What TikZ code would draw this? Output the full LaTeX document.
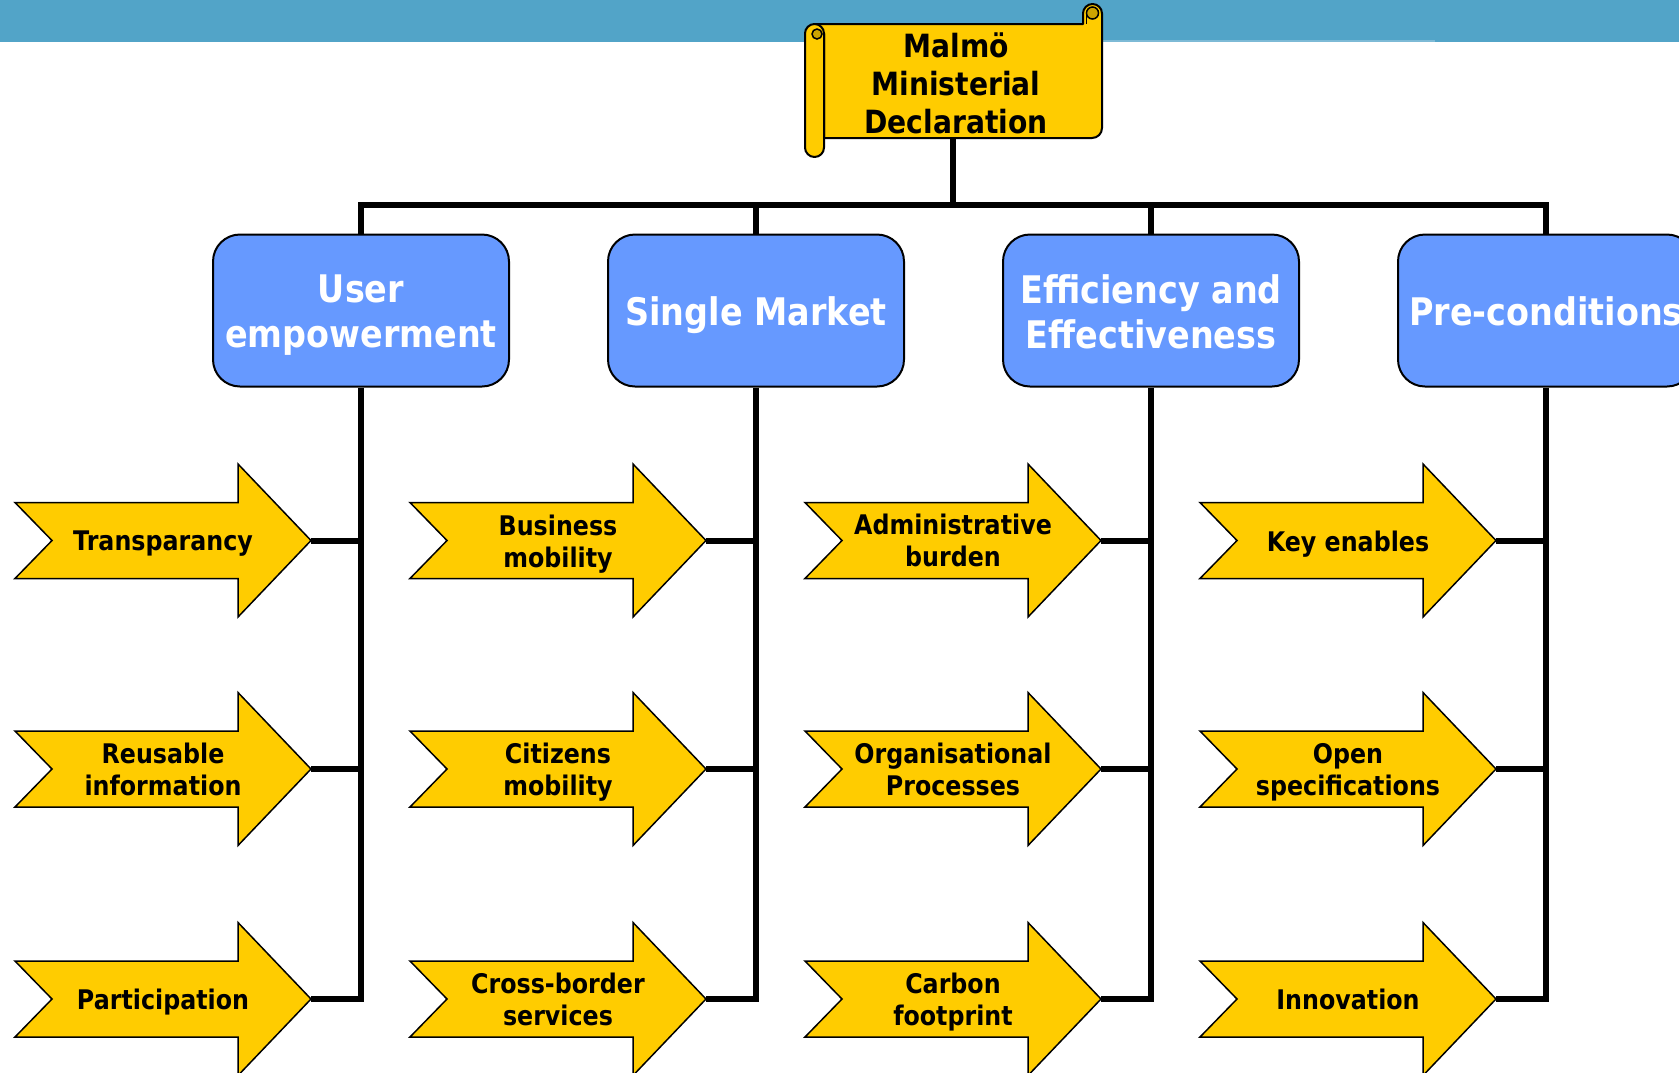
\documentclass[tikz,border=0pt]{standalone}
\usepackage{fontspec}
\setmainfont{DejaVu Sans}[FakeStretch=0.88]
\definecolor{gold}{HTML}{FFCC00}
\definecolor{golddark}{HTML}{CCA300}
\definecolor{boxblue}{HTML}{6699FF}
\definecolor{band}{HTML}{52A4C8}
\definecolor{bandlight}{HTML}{7DBAD6}
\tikzset{
  conn/.style={line width=6pt, line join=miter},
  topic/.style={draw=black, line width=2pt, fill=boxblue, rounded corners=27pt,
    minimum width=296pt, minimum height=152pt, inner sep=0pt},
  topictext/.style={align=center, text=white,
    font=\fontsize{38}{45}\selectfont\bfseries, inner sep=0pt},
  arrowshape/.style={draw=black, line width=1.5pt, fill=gold, line join=miter},
  arrowtext/.style={align=center, font=\fontsize{27}{32}\selectfont\bfseries, inner sep=0pt},
  desc/.style={yshift=-3.2pt},
  scrolltext/.style={align=center, font=\fontsize{32}{38}\selectfont\bfseries,
    inner sep=0pt, minimum height=110pt, minimum width=250pt},
  scrollshape/.style={draw=black, line width=2pt, fill=gold, line join=round},
  curl/.style={draw=black, line width=1.5pt, fill=golddark},
}
\newcommand\itemarrow[5]{%
  \begin{scope}[shift={(#2,-#3)}]
    \filldraw[arrowshape] (0,38) -- (223,38) -- (223,76.5) -- (296,0) -- (223,-76.5)
      -- (223,-38) -- (0,-38) -- (37,0) -- cycle;
    \node[arrowtext,#5] (#1) at (148,0) {#4};
    \coordinate (#1tip) at (296,0);
  \end{scope}}
\begin{document}
\begin{tikzpicture}[x=1pt,y=1pt]
\useasboundingbox (0,0) rectangle (1679,-1072);
\clip (0,0) rectangle (1679,-1072);
% top band
\fill[band] (0,0) rectangle (1679,-41.5);
\fill[bandlight] (1102,-39.5) rectangle (1435,-41.5);

% scroll
\filldraw[scrollshape] (814.5,-24) -- (1083,-24) -- (1083,-13.5)
  arc[start angle=180,end angle=0,radius=9.5pt] -- (1102,-128)
  arc[start angle=0,end angle=-90,radius=10pt] -- (824,-138) -- (824,-33.5) -- cycle;
\filldraw[scrollshape] (805,-33.5) arc[start angle=180,end angle=0,radius=9.5pt]
  -- (824,-147.5) arc[start angle=0,end angle=-180,radius=9.5pt] -- cycle;
\filldraw[curl] (817,-34) circle[radius=5pt];
\filldraw[curl] (1092.5,-13) circle[radius=6pt];
\draw[black,line width=1.5pt] (1086.5,-13) -- (1086.5,-24);
\node[scrolltext] (scroll) at (956,-83) {Malmö\\Ministerial\\Declaration};

% topic boxes
\node[topic] (b1) at (361,-310.5) {};
\node[topic] (b2) at (756,-310.5) {};
\node[topic] (b3) at (1151,-310.5) {};
\node[topic] (b4) at (1546,-310.5) {};
\node[topictext,yshift=-4.4pt] (b1t) at (b1.center) {User\\empowerment};
\node[topictext,yshift=-4.4pt] (b2t) at (b2.center) {Single Market};
\node[topictext,yshift=-1pt] (b3t) at (b3.center) {Efficiency and\\Effectiveness};
\node[topictext,yshift=-1pt] (b4t) at (b4.center) {Pre-conditions};

% tree connectors
\path ([xshift=-3pt]scroll.south) coordinate (stem) ++(0,-67) coordinate (hub);
\draw[conn] (stem) -- (hub);
\draw[conn] (b1.north) -- (b1.north |- hub) -- (b4.north |- hub) -- (b4.north);
\draw[conn] (b2.north) -- (b2.north |- hub);
\draw[conn] (b3.north) -- (b3.north |- hub);

% arrows
\itemarrow{a11}{15}{540.5}{Transparancy}{desc}
\itemarrow{a12}{15}{769}{Reusable\\information}{}
\itemarrow{a13}{15}{999}{Participation}{desc}
\itemarrow{a21}{410}{540.5}{Business\\mobility}{desc}
\itemarrow{a22}{410}{769}{Citizens\\mobility}{desc}
\itemarrow{a23}{410}{999}{Cross-border\\services}{}
\itemarrow{a31}{805}{540.5}{Administrative\\burden}{}
\itemarrow{a32}{805}{769}{Organisational\\Processes}{}
\itemarrow{a33}{805}{999}{Carbon\\footprint}{desc}
\itemarrow{a41}{1200}{540.5}{Key enables}{desc}
\itemarrow{a42}{1200}{769}{Open\\specifications}{desc}
\itemarrow{a43}{1200}{999}{Innovation}{}

% column connectors
\foreach \c in {1,2,3,4}{
  \draw[conn] (b\c.south) -- (b\c.south |- a\c3tip) -- (a\c3tip);
  \draw[conn] (a\c1tip) -- (b\c.south |- a\c1tip);
  \draw[conn] (a\c2tip) -- (b\c.south |- a\c2tip);
}
\end{tikzpicture}
\end{document}
